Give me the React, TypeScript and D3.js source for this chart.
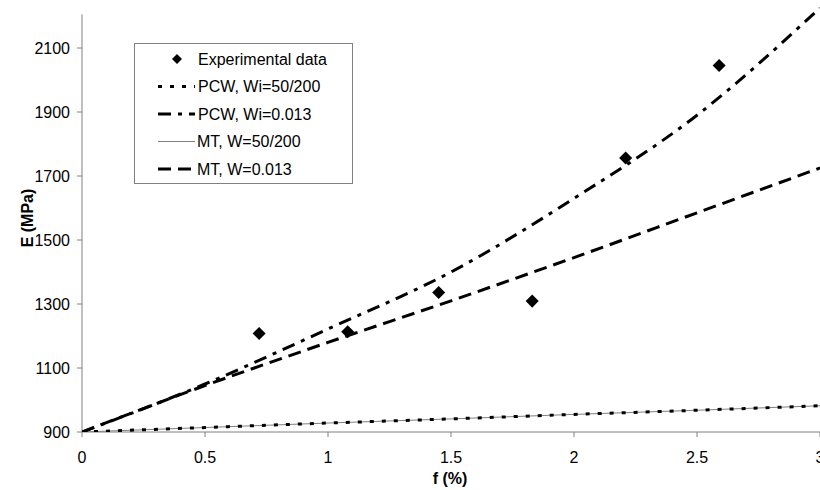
import React from "react";
import * as d3 from "d3";

const fSteps = [0, 0.5, 1, 1.5, 2, 2.5, 3];
const pcwWi50 = [900, 914, 928, 941, 955, 968, 982];
const pcwWi013 = [900, 1050, 1222, 1400, 1630, 1890, 2225];
const mtW50 = [900, 914, 928, 941, 955, 968, 982];
const mtW013 = [900, 1045, 1180, 1310, 1445, 1585, 1725];

const expF = [0.72, 1.08, 1.45, 1.83, 2.21, 2.59];
const expE = [1208, 1213, 1336, 1309, 1756, 2045];

const xTicks = [0, 0.5, 1, 1.5, 2, 2.5, 3];
const yTicks = [900, 1100, 1300, 1500, 1700, 1900, 2100];

const legendLabels = [
  "Experimental data",
  "PCW, Wi=50/200",
  "PCW, Wi=0.013",
  "MT, W=50/200",
  "MT, W=0.013",
];

const W = 820;
const H = 490;
const FONT = "'Liberation Sans', Arial, Helvetica, sans-serif";

export default function App() {
  const x = d3.scaleLinear().domain([0, 3]).range([82, 820]);
  const y = d3.scaleLinear().domain([900, 2100]).range([432, 48]);
  const yTop = y(2205);

  const line = (vals: number[]) =>
    d3
      .line<number>()
      .x((_, i) => x(fSteps[i]))
      .y((v) => y(v))
      .curve(d3.curveMonotoneX)(vals) as string;

  const diamond = (size: number) => d3.symbol(d3.symbolSquare, size)() as string;

  const lx0 = 158;
  const lx1 = 195;
  const legendY = (i: number) => 59 + i * 27.5;

  const styles = [
    null,
    { stroke: "#000", width: 3, dash: "4,8" },
    { stroke: "#000", width: 3, dash: "13,7,4,7" },
    { stroke: "#808080", width: 1, dash: "none" },
    { stroke: "#000", width: 3, dash: "13,7" },
  ];

  return (
    <svg
      width={W}
      height={H}
      style={{ position: "absolute", left: 0, top: 0, background: "#fff" }}
      fontFamily={FONT}
    >
      <defs>
        <clipPath id="plotClip">
          <rect x={82} y={0} width={W - 82} height={432} />
        </clipPath>
      </defs>

      {/* axes */}
      <line x1={82} x2={82} y1={yTop} y2={432} stroke="#808080" strokeWidth={1} />
      <line x1={82} x2={W} y1={432} y2={432} stroke="#808080" strokeWidth={1} />

      {yTicks.map((t) => (
        <g key={"y" + t}>
          <line x1={77} x2={82} y1={y(t)} y2={y(t)} stroke="#808080" />
          <text x={70} y={y(t)} dy="0.35em" textAnchor="end" fontSize={16} fill="#000">
            {t}
          </text>
        </g>
      ))}
      {xTicks.map((t) => (
        <g key={"x" + t}>
          <line x1={x(t)} x2={x(t)} y1={432} y2={437} stroke="#808080" />
          <text x={x(t)} y={463} textAnchor="middle" fontSize={16} fill="#000">
            {String(t)}
          </text>
        </g>
      ))}

      <text x={450} y={484} textAnchor="middle" fontSize={16} fontWeight="bold">
        f (%)
      </text>
      <text
        transform={`translate(33,218) rotate(-90)`}
        textAnchor="middle"
        fontSize={16}
        fontWeight="bold"
      >
        E (MPa)
      </text>

      <g clipPath="url(#plotClip)">
        <path d={line(mtW50)} fill="none" stroke="#808080" strokeWidth={1} />
        <path d={line(pcwWi50)} fill="none" stroke="#000" strokeWidth={3} strokeDasharray="4,8" />
        <path d={line(mtW013)} fill="none" stroke="#000" strokeWidth={3} strokeDasharray="13,7" />
        <path d={line(pcwWi013)} fill="none" stroke="#000" strokeWidth={3} strokeDasharray="13,7,4,7" />
      </g>

      {expF.map((f, i) => (
        <path
          key={"p" + i}
          d={diamond(85)}
          transform={`translate(${x(f)},${y(expE[i])}) rotate(45)`}
          fill="#000"
        />
      ))}

      {/* legend */}
      <rect x={134.5} y={43.5} width={218} height={140} fill="#fff" stroke="#808080" strokeWidth={1} />
      {legendLabels.map((lab, i) => {
        const s = styles[i];
        const ly = legendY(i);
        return (
          <g key={"l" + i}>
            {s ? (
              <line
                x1={lx0}
                x2={lx1}
                y1={ly}
                y2={ly}
                stroke={s.stroke}
                strokeWidth={s.width}
                strokeDasharray={s.dash}
              />
            ) : (
              <path d={diamond(50)} transform={`translate(177,${ly}) rotate(45)`} fill="#000" />
            )}
            <text x={i === 0 ? 198 : i >= 3 ? 197 : 198} y={ly} dy="0.35em" fontSize={16} fill="#000">
              {lab}
            </text>
          </g>
        );
      })}
    </svg>
  );
}
